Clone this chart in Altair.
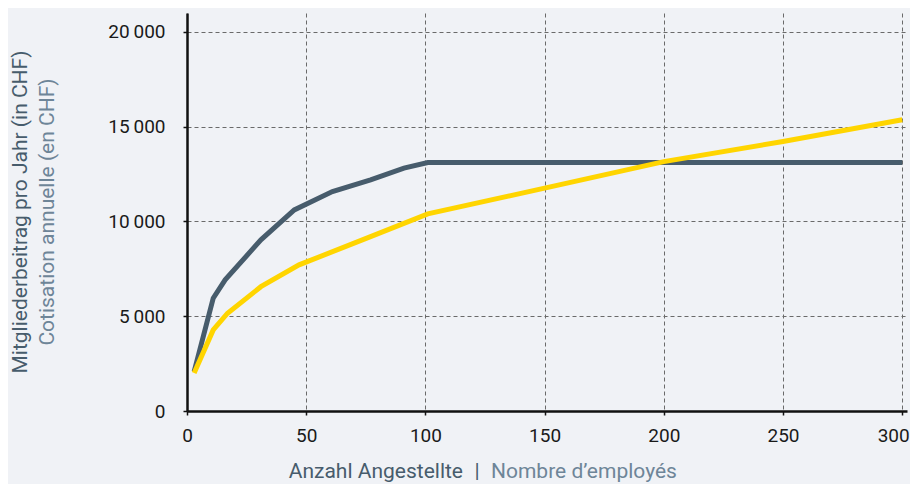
import altair as alt
import pandas as pd

# --- data ---
emp_members = [3, 11, 16, 31, 45, 61, 77, 91, 101, 300]
fee_members = [2080, 5950, 6920, 9030, 10610, 11580, 12200, 12820, 13110, 13110]

emp_alt = [3, 11, 17, 31, 47, 77, 101, 150, 200, 250, 300]
fee_alt = [2000, 4280, 5160, 6560, 7710, 9200, 10400, 11760, 13160, 14220, 15370]

x_ticks = [0, 50, 100, 150, 200, 250, 300]
y_ticks = [0, 5000, 10000, 15000, 20000]

x_title_de = "Anzahl Angestellte"
x_title_sep = "|"
x_title_fr = "Nombre d’employés"
y_title_de = "Mitgliederbeitrag pro Jahr (in CHF)"
y_title_fr = "Cotisation annuelle (en CHF)"

DARK = "#475c6c"
LIGHT = "#6e8598"
YELLOW = "#ffd500"
BG = "#f0f2f6"
FONT = "Roboto"

df = pd.concat([
    pd.DataFrame({"emp": emp_members, "fee": fee_members, "series": "a"}),
    pd.DataFrame({"emp": emp_alt, "fee": fee_alt, "series": "b"}),
])

W, H = 720, 398

x_enc = alt.X("emp:Q", scale=alt.Scale(domain=[0, 302], nice=False, zero=True),
              axis=alt.Axis(values=x_ticks, title=None, grid=True, gridDash=[4, 3],
                            gridColor="#6a6a6a", gridWidth=1, domainColor="#111",
                            domainWidth=2.5, tickColor="#111", tickSize=4, tickWidth=1.5,
                            labelFontSize=19, labelColor="#1a1a1a", labelFont=FONT,
                            labelPadding=11, labelFlush=False,
                            labelAlign={"expr": "datum.value === 300 ? 'right' : 'center'"},
                            labelOffset={"expr": "datum.value === 300 ? 7 : 0"}))
y_enc = alt.Y("fee:Q", scale=alt.Scale(domain=[0, 21000], nice=False),
              axis=alt.Axis(values=y_ticks, title=None, grid=True, gridDash=[4, 3],
                            gridColor="#6a6a6a", gridWidth=1, domainColor="#111",
                            domainWidth=2.5, tickColor="#111", tickSize=4, tickWidth=1.5,
                            labelFontSize=19, labelColor="#1a1a1a", labelFont=FONT,
                            labelPadding=18,
                            labelExpr="replace(format(datum.value, ','), ',', '\u2009')"))

dark_line = alt.Chart(df).transform_filter(alt.datum.series == "a").mark_line(
    color=DARK, strokeWidth=5, strokeJoin="miter", clip=False
).encode(x=x_enc, y=y_enc, order="emp:Q")

yellow_line = alt.Chart(df).transform_filter(alt.datum.series == "b").mark_line(
    color=YELLOW, strokeWidth=5, strokeJoin="miter", clip=False
).encode(x="emp:Q", y="fee:Q", order="emp:Q")

def label(txt, color, x, y, align="center", angle=0):
    return alt.Chart(pd.DataFrame({"t": [txt]})).mark_text(
        font=FONT, fontSize=21, color=color, align=align, baseline="middle", angle=angle
    ).encode(text="t:N", x=alt.value(x), y=alt.value(y))

texts = [
    label(x_title_de, DARK, 276, 459, align="right"),
    label(x_title_sep, DARK, 290, 459),
    label(x_title_fr, LIGHT, 304, 459, align="left"),
    label(y_title_de, DARK, -166, 199, angle=270),
    label(y_title_fr, LIGHT, -139, 199, angle=270),
]

chart = alt.layer(dark_line, yellow_line, *texts).properties(
    width=W, height=H,
    background=BG,
    padding={"left": 179, "top": 5, "right": 3, "bottom": 73},
    autosize=alt.AutoSizeParams(type="none"),
).configure_view(stroke=None)

chart.save("out.html", embed_options={"renderer": "svg", "actions": False})
